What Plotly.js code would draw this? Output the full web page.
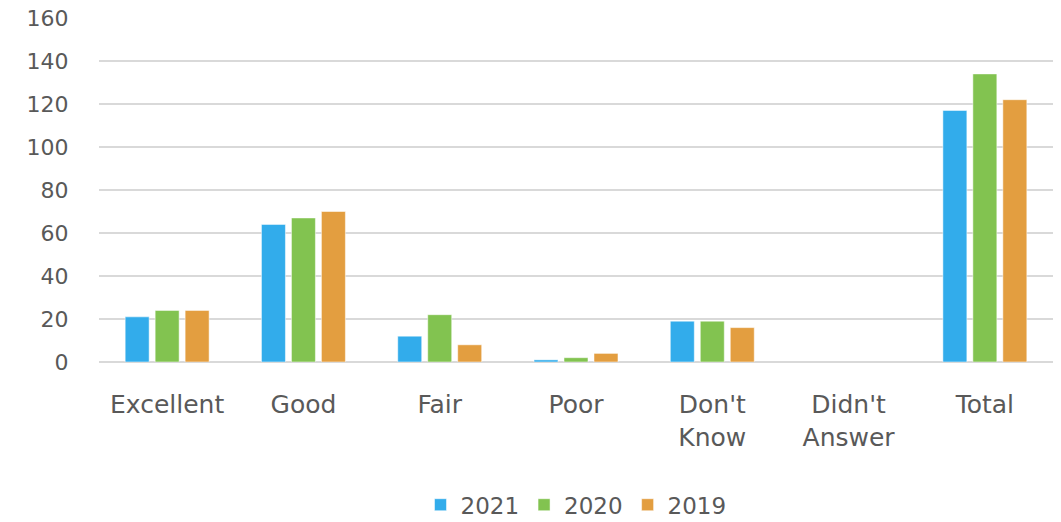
<!DOCTYPE html>
<html>
<head>
<meta charset="utf-8">
<script src="https://cdn.plot.ly/plotly-3.0.1.min.js"></script>
<style>html,body{margin:0;padding:0;background:#fff;}#chart{width:1061px;height:522px;}</style>
</head>
<body>
<div id="chart"></div>
<script>
const categories = ["Excellent", "Good", "Fair", "Poor", "Don't<br>Know", "Didn't<br>Answer", "Total"];
const seriesNames = ["2021", "2020", "2019"];
const values2021 = [21, 64, 12, 1, 19, 0, 117];
const values2020 = [24, 67, 22, 2, 19, 0, 134];
const values2019 = [24, 70, 8, 4, 16, 0, 122];
const colors = ["#32ACEB", "#82C350", "#E39E40"];
const yTicks = [0, 20, 40, 60, 80, 100, 120, 140, 160];

const allValues = [values2021, values2020, values2019];
const traces = allValues.map((v, i) => ({
  type: "bar",
  name: seriesNames[i],
  x: categories,
  y: v,
  marker: {
    color: colors[i],
    line: {color: "rgba(255,255,255,0.5)", width: v.map(d => d === 0 ? 0 : 1)}
  },
  hoverinfo: "y"
}));

const font = "'DejaVu Sans', 'Open Sans', sans-serif";
const layout = {
  width: 1061, height: 522,
  margin: {l: 99, r: 8, t: 18, b: 160, autoexpand: false},
  paper_bgcolor: "#fff", plot_bgcolor: "#fff",
  barmode: "group",
  bargap: 0.34,
  bargroupgap: 0.2,
  font: {family: font, color: "#595959"},
  xaxis: {
    type: "category",
    automargin: false,
    tickfont: {size: 25, color: "#595959"},
    ticks: "outside", ticklen: 20, tickcolor: "rgba(0,0,0,0)",
    showgrid: false, showline: false, zeroline: false,
    fixedrange: true
  },
  yaxis: {
    automargin: false,
    range: [0, 160],
    tickvals: yTicks,
    ticktext: yTicks.map(String),
    tickfont: {size: 22, color: "#595959"},
    ticks: "outside", ticklen: 25, tickcolor: "rgba(0,0,0,0)",
    showgrid: true, gridcolor: "#d9d9d9", gridwidth: 1.5,
    zeroline: true, zerolinecolor: "#d9d9d9", zerolinewidth: 1.5,
    showline: false,
    fixedrange: true
  },
  showlegend: true,
  legend: {
    orientation: "h",
    x: 0.5, xanchor: "center",
    y: -0.415, yanchor: "middle",
    font: {size: 23, color: "#595959"},
    itemwidth: 30,
    tracegroupgap: 0
  }
};

Plotly.newPlot("chart", traces, layout, {displayModeBar: false, staticPlot: true});
</script>
</body>
</html>
